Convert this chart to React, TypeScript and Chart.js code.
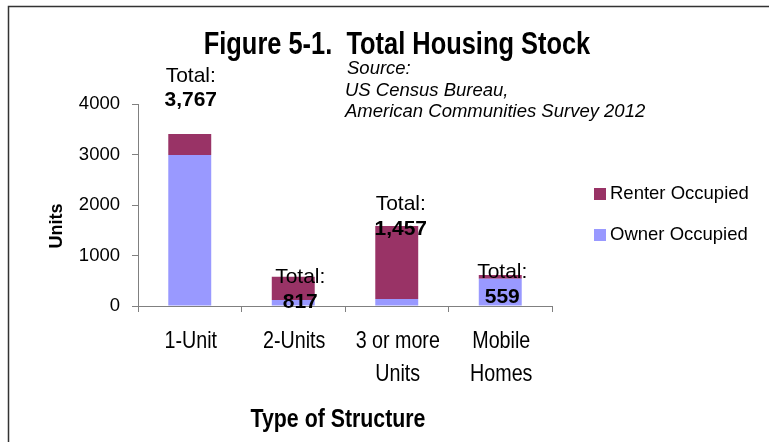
import { useEffect, useRef } from "react";
import { Chart, registerables } from "chart.js";

Chart.register(...registerables);

const categories: string[][] = [["1-Unit"], ["2-Units"], ["3 or more", "Units"], ["Mobile", "Homes"]];
const ownerOccupied = [2990, 120, 140, 540];
const renterOccupied = [415, 460, 1445, 74];
const totalLabels = ["3,767", "817", "1,457", "559"];
const seriesNames = ["Owner Occupied", "Renter Occupied"];
const titleText = "Figure 5-1.  Total Housing Stock";
const sourceLines = ["Source:", "US Census Bureau,", "American Communities Survey 2012"];
const yAxisTitle = "Units";
const xAxisTitle = "Type of Structure";

const OWNER_COLOR = "#9999FF";
const RENTER_COLOR = "#993366";
const AXIS_COLOR = "#808080";
const SANS = "'Liberation Sans', Arial, sans-serif";
const NARROW_SCALE = 0.82;

// label placement relative to each stack top (pixels)
const labelOffsets = [
  { dx: 1, dyTotal: -58, dyValue: -34 },
  { dx: 7, dyTotal: 0, dyValue: 25 },
  { dx: 4, dyTotal: -22, dyValue: 3 },
  { dx: 2, dyTotal: -3, dyValue: 22 },
];

function narrowText(ctx: CanvasRenderingContext2D, text: string, x: number, y: number, font: string) {
  ctx.save();
  ctx.font = font;
  ctx.translate(x, y);
  ctx.scale(NARROW_SCALE, 1);
  ctx.textAlign = "center";
  ctx.textBaseline = "middle";
  ctx.fillText(text, 0, 0);
  ctx.restore();
}

const decorPlugin = {
  id: "decor",
  afterDraw(chart: any) {
    const ctx = chart.ctx as CanvasRenderingContext2D;
    const xs = chart.scales.x;
    const ys = chart.scales.y;
    ctx.save();

    // frame (left & top lines)
    ctx.strokeStyle = "#333333";
    ctx.lineWidth = 1.5;
    ctx.beginPath();
    ctx.moveTo(8.5, 442);
    ctx.lineTo(8.5, 6.5);
    ctx.lineTo(769, 6.5);
    ctx.stroke();

    ctx.fillStyle = "#000";
    ctx.textBaseline = "middle";

    // title
    narrowText(ctx, titleText, 397, 45, `bold 31px ${SANS}`);

    // source
    ctx.textAlign = "left";
    ctx.font = `italic 18.5px ${SANS}`;
    sourceLines.forEach((line, i) => {
      ctx.fillText(line, i === 0 ? 347 : 345, 69 + i * 21.5);
    });

    // category labels (narrow face)
    const labels = chart.data.labels as string[][];
    labels.forEach((lines, i) => {
      const cx = xs.getPixelForValue(i) + 1;
      lines.forEach((line, j) => {
        narrowText(ctx, line, cx, 341 + j * 33, `24px ${SANS}`);
      });
    });

    // total labels
    ctx.textAlign = "center";
    for (let i = 0; i < categories.length; i++) {
      const total = ownerOccupied[i] + renterOccupied[i];
      const top = ys.getPixelForValue(total);
      const cx = xs.getPixelForValue(i) + labelOffsets[i].dx;
      ctx.font = `21px ${SANS}`;
      ctx.fillText("Total:", cx, top + labelOffsets[i].dyTotal);
      ctx.font = `bold 21px ${SANS}`;
      ctx.fillText(totalLabels[i], cx, top + labelOffsets[i].dyValue);
    }

    // legend (reverse order, as in stacked charts)
    const ds = chart.data.datasets.slice().reverse();
    ctx.textAlign = "left";
    ctx.font = `18.5px ${SANS}`;
    ds.forEach((d: any, i: number) => {
      const cy = 194 + i * 41;
      ctx.fillStyle = d.backgroundColor;
      ctx.fillRect(594, cy - 6, 12, 12);
      ctx.fillStyle = "#000";
      ctx.fillText(d.label, 610, cy);
    });

    // y axis title
    ctx.save();
    ctx.translate(57, 226);
    ctx.rotate(-Math.PI / 2);
    ctx.textAlign = "center";
    ctx.font = `bold 18px ${SANS}`;
    ctx.fillText(yAxisTitle, 0, 0);
    ctx.restore();

    // x axis title
    narrowText(ctx, xAxisTitle, 338, 420, `bold 26px ${SANS}`);

    ctx.restore();
  },
};

export default function App() {
  const ref = useRef<HTMLCanvasElement | null>(null);

  useEffect(() => {
    if (!ref.current) return;
    const chart = new Chart(ref.current, {
      type: "bar",
      data: {
        labels: categories,
        datasets: [
          {
            label: seriesNames[0],
            data: ownerOccupied,
            backgroundColor: OWNER_COLOR,
            borderWidth: 0,
            barPercentage: 0.415,
            categoryPercentage: 1,
          },
          {
            label: seriesNames[1],
            data: renterOccupied,
            backgroundColor: RENTER_COLOR,
            borderWidth: 0,
            barPercentage: 0.415,
            categoryPercentage: 1,
          },
        ],
      },
      options: {
        animation: false,
        responsive: true,
        maintainAspectRatio: false,
        layout: { padding: { top: 104, right: 217, left: 0, bottom: 0 } },
        plugins: {
          legend: { display: false },
          title: { display: false },
          tooltip: { enabled: false },
        },
        scales: {
          x: {
            stacked: true,
            offset: true,
            grid: {
              display: true,
              drawOnChartArea: false,
              drawTicks: true,
              tickLength: 6,
              offset: true,
              color: AXIS_COLOR,
            },
            border: { color: AXIS_COLOR, width: 1 },
            ticks: { display: false },
            afterFit: (s: any) => {
              s.height = 136;
            },
          },
          y: {
            stacked: true,
            min: 0,
            max: 4000,
            grid: {
              display: true,
              drawOnChartArea: false,
              drawTicks: true,
              tickLength: 6,
              color: AXIS_COLOR,
            },
            border: { color: AXIS_COLOR, width: 1 },
            ticks: {
              stepSize: 1000,
              color: "#000",
              font: { family: SANS, size: 18.5 },
              padding: 12,
              callback: (v: any) => String(v),
            },
            afterFit: (s: any) => {
              s.width = 138;
            },
          },
        },
      },
      plugins: [decorPlugin],
    });
    return () => chart.destroy();
  }, []);

  return (
    <div style={{ position: "absolute", left: 0, top: 0, width: 769, height: 442, background: "#fff" }}>
      <canvas ref={ref} />
    </div>
  );
}
